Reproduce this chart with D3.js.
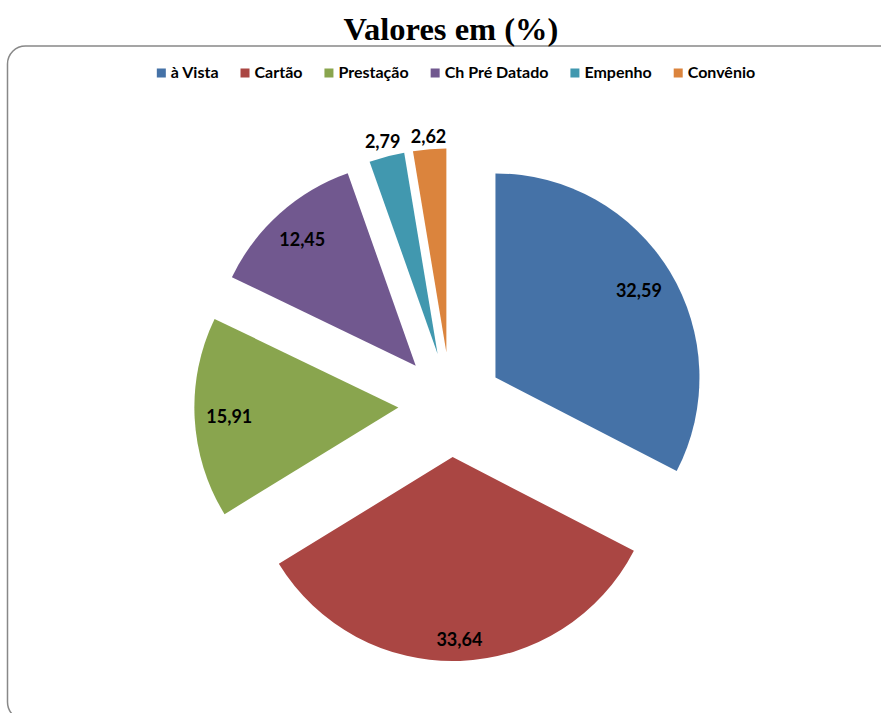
<!DOCTYPE html>
<html><head><meta charset="utf-8">
<script src="https://cdn.jsdelivr.net/npm/d3@7"></script>
<style>body{margin:0;background:#fff}svg{display:block}</style>
</head><body>
<svg id="c" width="881" height="713"></svg>
<script>
const categories = ["à Vista","Cartão","Prestação","Ch Pré Datado","Empenho","Convênio"];
const values = [32.59,33.64,15.91,12.45,2.79,2.62];
const labels = ["32,59","33,64","15,91","12,45","2,79","2,62"];
const colors = ["#4572A7","#AA4643","#89A54E","#71588F","#4198AF","#DB843D"];
const title = "Valores em (%)";

const svg = d3.select("#c");
svg.append("rect").attr("x",7.5).attr("y",46).attr("width",920).attr("height",674)
  .attr("rx",18).attr("fill","#fff").attr("stroke","#888").attr("stroke-width",1.5);

svg.append("text").attr("x",451).attr("y",39.5).attr("text-anchor","middle")
  .attr("font-family","Liberation Serif, 'Times New Roman', serif").attr("font-weight","bold")
  .attr("font-size",32.5).attr("fill","#000").text(title);

// legend
const lg = svg.append("g");
let x = 0;
categories.forEach((c,i)=>{
  const g = lg.append("g");
  g.append("rect").attr("x",0).attr("y",-9.5).attr("width",9).attr("height",9).attr("fill",colors[i]);
  const t = g.append("text").attr("x",14).attr("y",0).attr("font-family","Lato, 'Open Sans', sans-serif")
    .attr("font-weight","bold").attr("font-size",16).attr("fill","#000").text(c);
  const w = 14 + t.node().getComputedTextLength();
  g.attr("transform",`translate(${x},0)`);
  x += w + 22;
});
const total = x - 22;
lg.attr("transform",`translate(${456 - total/2},78)`);

// pie
const cx = 450.7, cy = 404.7, R = 204, explode = 52.4;
const pie = d3.pie().sort(null).value(d=>d)(values);
const arc = d3.arc().innerRadius(0).outerRadius(R);
const g = svg.append("g").attr("transform",`translate(${cx},${cy})`);
pie.forEach((p,i)=>{
  const a = (p.startAngle+p.endAngle)/2;
  const ux = Math.sin(a), uy = -Math.cos(a);
  const sg = g.append("g").attr("transform",`translate(${ux*explode},${uy*explode})`);
  sg.append("path").attr("d",arc(p)).attr("fill",colors[i]);
  const t = sg.append("text")
    .attr("text-anchor","middle").attr("dominant-baseline","central")
    .attr("font-family","Lato, 'Open Sans', sans-serif").attr("font-weight","bold")
    .attr("font-size",18).attr("fill","#000").text(labels[i]);
  const hw = t.node().getComputedTextLength()/2, hh = 10;
  const support = Math.abs(ux)*hw + Math.abs(uy)*hh;
  const small = (p.endAngle - p.startAngle) < 0.35;
  const lr = small ? R + 2 + support : R*0.945 - support;
  t.attr("x",ux*lr).attr("y",uy*lr);
});
</script>
</body></html>
